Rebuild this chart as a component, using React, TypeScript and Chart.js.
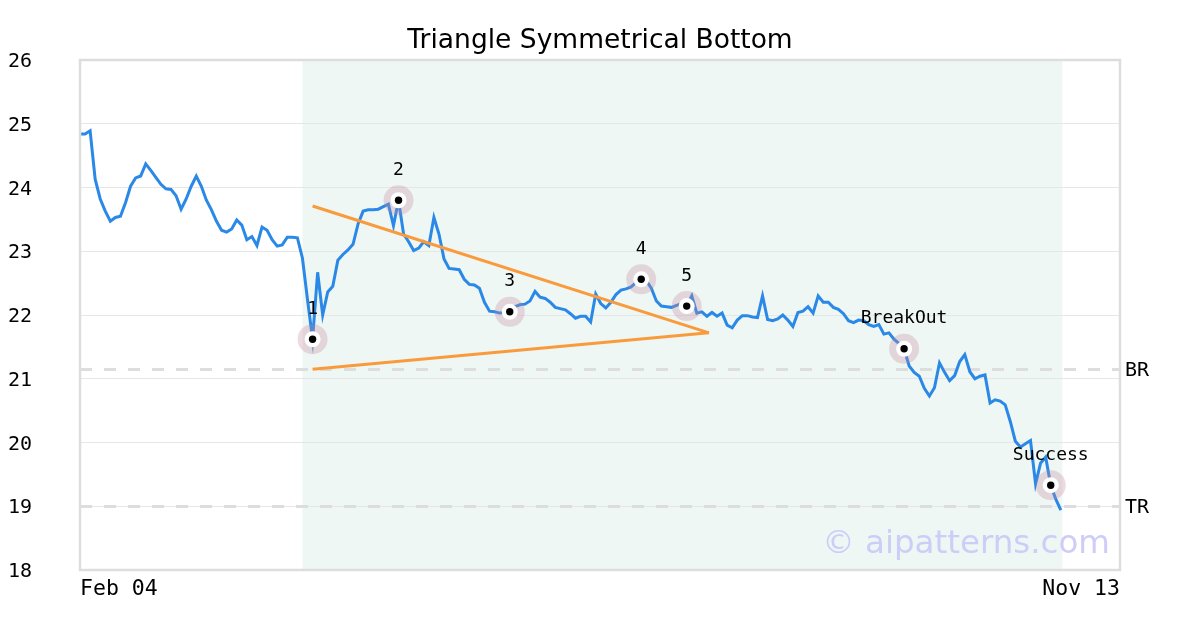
import React, { useEffect, useRef } from "react";
import { Chart, registerables } from "chart.js";
Chart.register(...registerables);

const TITLE = "Triangle Symmetrical Bottom";
const xTickLabels = ["Feb 04", "Nov 13"];
const xMax = 205.7;
const yMin = 18;
const yMax = 26;

const price = [
  24.84, 24.84, 24.89, 24.13, 23.82, 23.63, 23.47, 23.53, 23.55, 23.76,
  24.02, 24.15, 24.18, 24.37, 24.27, 24.16, 24.05, 23.98, 23.97, 23.87,
  23.66, 23.82, 24.02, 24.18, 24.02, 23.80, 23.65, 23.47, 23.33, 23.30,
  23.35, 23.49, 23.41, 23.18, 23.23, 23.09, 23.38, 23.33, 23.18, 23.08,
  23.10, 23.22, 23.22, 23.21, 22.89, 22.24, 21.62, 22.67, 22.00, 22.36,
  22.45, 22.86, 22.95, 23.02, 23.11, 23.43, 23.63, 23.65, 23.65, 23.66,
  23.70, 23.74, 23.40, 23.80, 23.27, 23.15, 23.01, 23.05, 23.15, 23.09,
  23.53, 23.27, 22.88, 22.73, 22.72, 22.71, 22.56, 22.48, 22.47, 22.42,
  22.20, 22.06, 22.05, 22.03, 22.04, 22.05, 22.13, 22.16, 22.17, 22.22,
  22.37, 22.28, 22.26, 22.20, 22.12, 22.10, 22.08, 22.02, 21.95, 21.98,
  21.98, 21.89, 22.33, 22.18, 22.11, 22.20, 22.32, 22.39, 22.41, 22.44,
  22.51, 22.56, 22.54, 22.42, 22.22, 22.14, 22.13, 22.12, 22.15, 22.18,
  22.14, 22.30, 22.03, 22.05, 21.98, 22.04, 21.98, 22.03, 21.84, 21.80,
  21.92, 21.99, 21.99, 21.97, 21.96, 22.30, 21.93, 21.91, 21.94, 22.00,
  21.92, 21.82, 22.04, 22.06, 22.13, 22.03, 22.30, 22.20, 22.20, 22.12,
  22.09, 22.02, 21.91, 21.88, 21.92, 21.91, 21.85, 21.82, 21.85, 21.70,
  21.72, 21.62, 21.55, 21.47, 21.20, 21.10, 21.04, 20.85, 20.73, 20.86,
  21.25, 21.10, 20.97, 21.05, 21.27, 21.38, 21.11, 21.00, 21.04, 21.06,
  20.62, 20.67, 20.65, 20.59, 20.33, 20.02, 19.93, 19.98, 20.03, 19.35,
  19.68, 19.77, 19.33, 19.11, 18.94,
];

const markerIndex = [46, 63, 85, 111, 120, 163, 192];
const markerText = ["1", "2", "3", "4", "5", "BreakOut", "Success"];

const trendX = [46, 124.4];
const upperTrend = [23.71, 21.72];
const lowerTrend = [21.15, 21.72];

const levelValues = [21.15, 19.0];
const levelNames = ["BR", "TR"];

const shadeRange = [44, 194.3];

const WATERMARK = "© aipatterns.com";

export default function App() {
  const ref = useRef<HTMLCanvasElement>(null);
  useEffect(() => {
    document.body.style.margin = "0";
    const canvas = ref.current;
    if (!canvas) return;
    const priceData = price.map((v, i) => ({ x: i, y: v }));
    const markerData = markerIndex.map((i) => ({ x: i, y: price[i] }));
    const upperData = trendX.map((x, i) => ({ x, y: upperTrend[i] }));
    const lowerData = trendX.map((x, i) => ({ x, y: lowerTrend[i] }));

    const decor = {
      id: "decor",
      beforeDraw(chart: any) {
        const { ctx, chartArea: a, scales } = chart;
        const x0 = scales.x.getPixelForValue(shadeRange[0]);
        const x1 = scales.x.getPixelForValue(shadeRange[1]);
        ctx.save();
        ctx.fillStyle = "#eff7f4";
        ctx.fillRect(x0, a.top, x1 - x0, a.bottom - a.top);
        ctx.restore();
      },
      beforeDatasetsDraw(chart: any) {
        const { ctx, chartArea: a, scales } = chart;
        ctx.save();
        ctx.strokeStyle = "#dddddd";
        ctx.lineWidth = 3;
        ctx.setLineDash([12, 12]);
        levelValues.forEach((v) => {
          const y = Math.round(scales.y.getPixelForValue(v)) + 0.5;
          ctx.beginPath();
          ctx.moveTo(a.left, y);
          ctx.lineTo(a.right, y);
          ctx.stroke();
        });
        ctx.restore();
      },
      afterDatasetsDraw(chart: any) {
        const { ctx, scales } = chart;
        ctx.save();
        ctx.font = "18px 'DejaVu Sans Mono'";
        ctx.fillStyle = "#000";
        ctx.textAlign = "center";
        ctx.textBaseline = "middle";
        markerIndex.forEach((i, k) => {
          const px = scales.x.getPixelForValue(i);
          const py = scales.y.getPixelForValue(price[i]);
          ctx.fillText(markerText[k], px, py - 30);
        });
        ctx.restore();
      },
      afterDraw(chart: any) {
        const { ctx, chartArea: a, scales } = chart;
        ctx.save();
        ctx.font = "32.5px 'DejaVu Sans'";
        ctx.fillStyle = "#cdcdf8";
        ctx.textAlign = "right";
        ctx.textBaseline = "alphabetic";
        ctx.fillText(WATERMARK, a.right - 10, a.bottom - 17);
        ctx.strokeStyle = "#dddddd";
        ctx.lineWidth = 2.5;
        ctx.strokeRect(a.left, a.top, a.right - a.left, a.bottom - a.top);
        // axis tick labels (left and right)
        ctx.font = "20px 'DejaVu Sans Mono'";
        ctx.fillStyle = "#000";
        ctx.textBaseline = "middle";
        ctx.textAlign = "left";
        scales.y.ticks.forEach((t: any) => {
          const py = scales.y.getPixelForValue(t.value);
          ctx.fillText(String(t.value), scales.y.left + 8, py + 2);
        });
        scales.y2.ticks.forEach((t: any, i: number) => {
          const py = scales.y2.getPixelForValue(t.value);
          ctx.fillText(levelNames[i], scales.y2.left + 5, py + 2);
        });
        ctx.restore();
      },
    };

    const chart = new Chart(canvas, {
      type: "line",
      data: {
        datasets: [
          {
            type: "scatter",
            data: markerData,
            pointRadius: 3.7,
            pointBackgroundColor: "#000",
            pointBorderWidth: 0,
            order: 0,
          } as any,
          {
            type: "scatter",
            data: markerData,
            pointRadius: 8,
            pointBackgroundColor: "#ffffff",
            pointBorderWidth: 0,
            order: 1,
          } as any,
          {
            type: "scatter",
            data: markerData,
            pointRadius: 15,
            pointBackgroundColor: "rgba(195,135,160,0.3)",
            pointBorderWidth: 0,
            order: 2,
          } as any,
          {
            data: upperData,
            borderColor: "#f99b3d",
            borderWidth: 3,
            pointRadius: 0,
            order: 3,
          },
          {
            data: lowerData,
            borderColor: "#f99b3d",
            borderWidth: 3,
            pointRadius: 0,
            order: 3,
          },
          {
            data: priceData,
            borderColor: "#2a88e6",
            borderWidth: 3,
            pointRadius: 0,
            tension: 0,
            order: 4,
          },
        ],
      },
      options: {
        animation: false,
        responsive: false,
        devicePixelRatio: 1,
        layout: { padding: 0 },
        plugins: {
          legend: { display: false },
          tooltip: { enabled: false },
          title: {
            display: true,
            text: TITLE,
            color: "#000",
            font: { family: "'DejaVu Sans'", size: 26.5, weight: "normal", lineHeight: 1.2 },
            padding: { top: 25, bottom: 3.2 },
          },
        },
        scales: {
          x: {
            type: "linear",
            min: 0,
            max: xMax,
            grid: { display: false },
            border: { display: false },
            afterBuildTicks: (s: any) => {
              s.ticks = [{ value: 0 }, { value: xMax }];
            },
            afterFit: (s: any) => {
              s.height = 60;
            },
            ticks: {
              autoSkip: false,
              maxRotation: 0,
              align: "inner",
              padding: -1,
              color: "#000",
              font: { family: "'DejaVu Sans Mono'", size: 21.5 },
              callback: (_v: any, i: number) => xTickLabels[i],
            },
          },
          y: {
            position: "left",
            min: yMin,
            max: yMax,
            grid: { color: "#e6e6e6", lineWidth: 1, drawTicks: false },
            border: { display: false },
            afterFit: (s: any) => {
              s.width = 80;
            },
            ticks: {
              stepSize: 1,
              display: false,
            },
          },
          y2: {
            position: "right",
            min: yMin,
            max: yMax,
            grid: { display: false, drawTicks: false },
            border: { display: false },
            afterBuildTicks: (s: any) => {
              s.ticks = levelValues.map((v) => ({ value: v }));
            },
            afterFit: (s: any) => {
              s.width = 80;
            },
            ticks: { display: false },
          },
        },
      } as any,
      plugins: [decor],
    });
    return () => chart.destroy();
  }, []);
  return (
    <div style={{ width: 1200, height: 630 }}>
      <canvas ref={ref} width={1200} height={630} />
    </div>
  );
}
